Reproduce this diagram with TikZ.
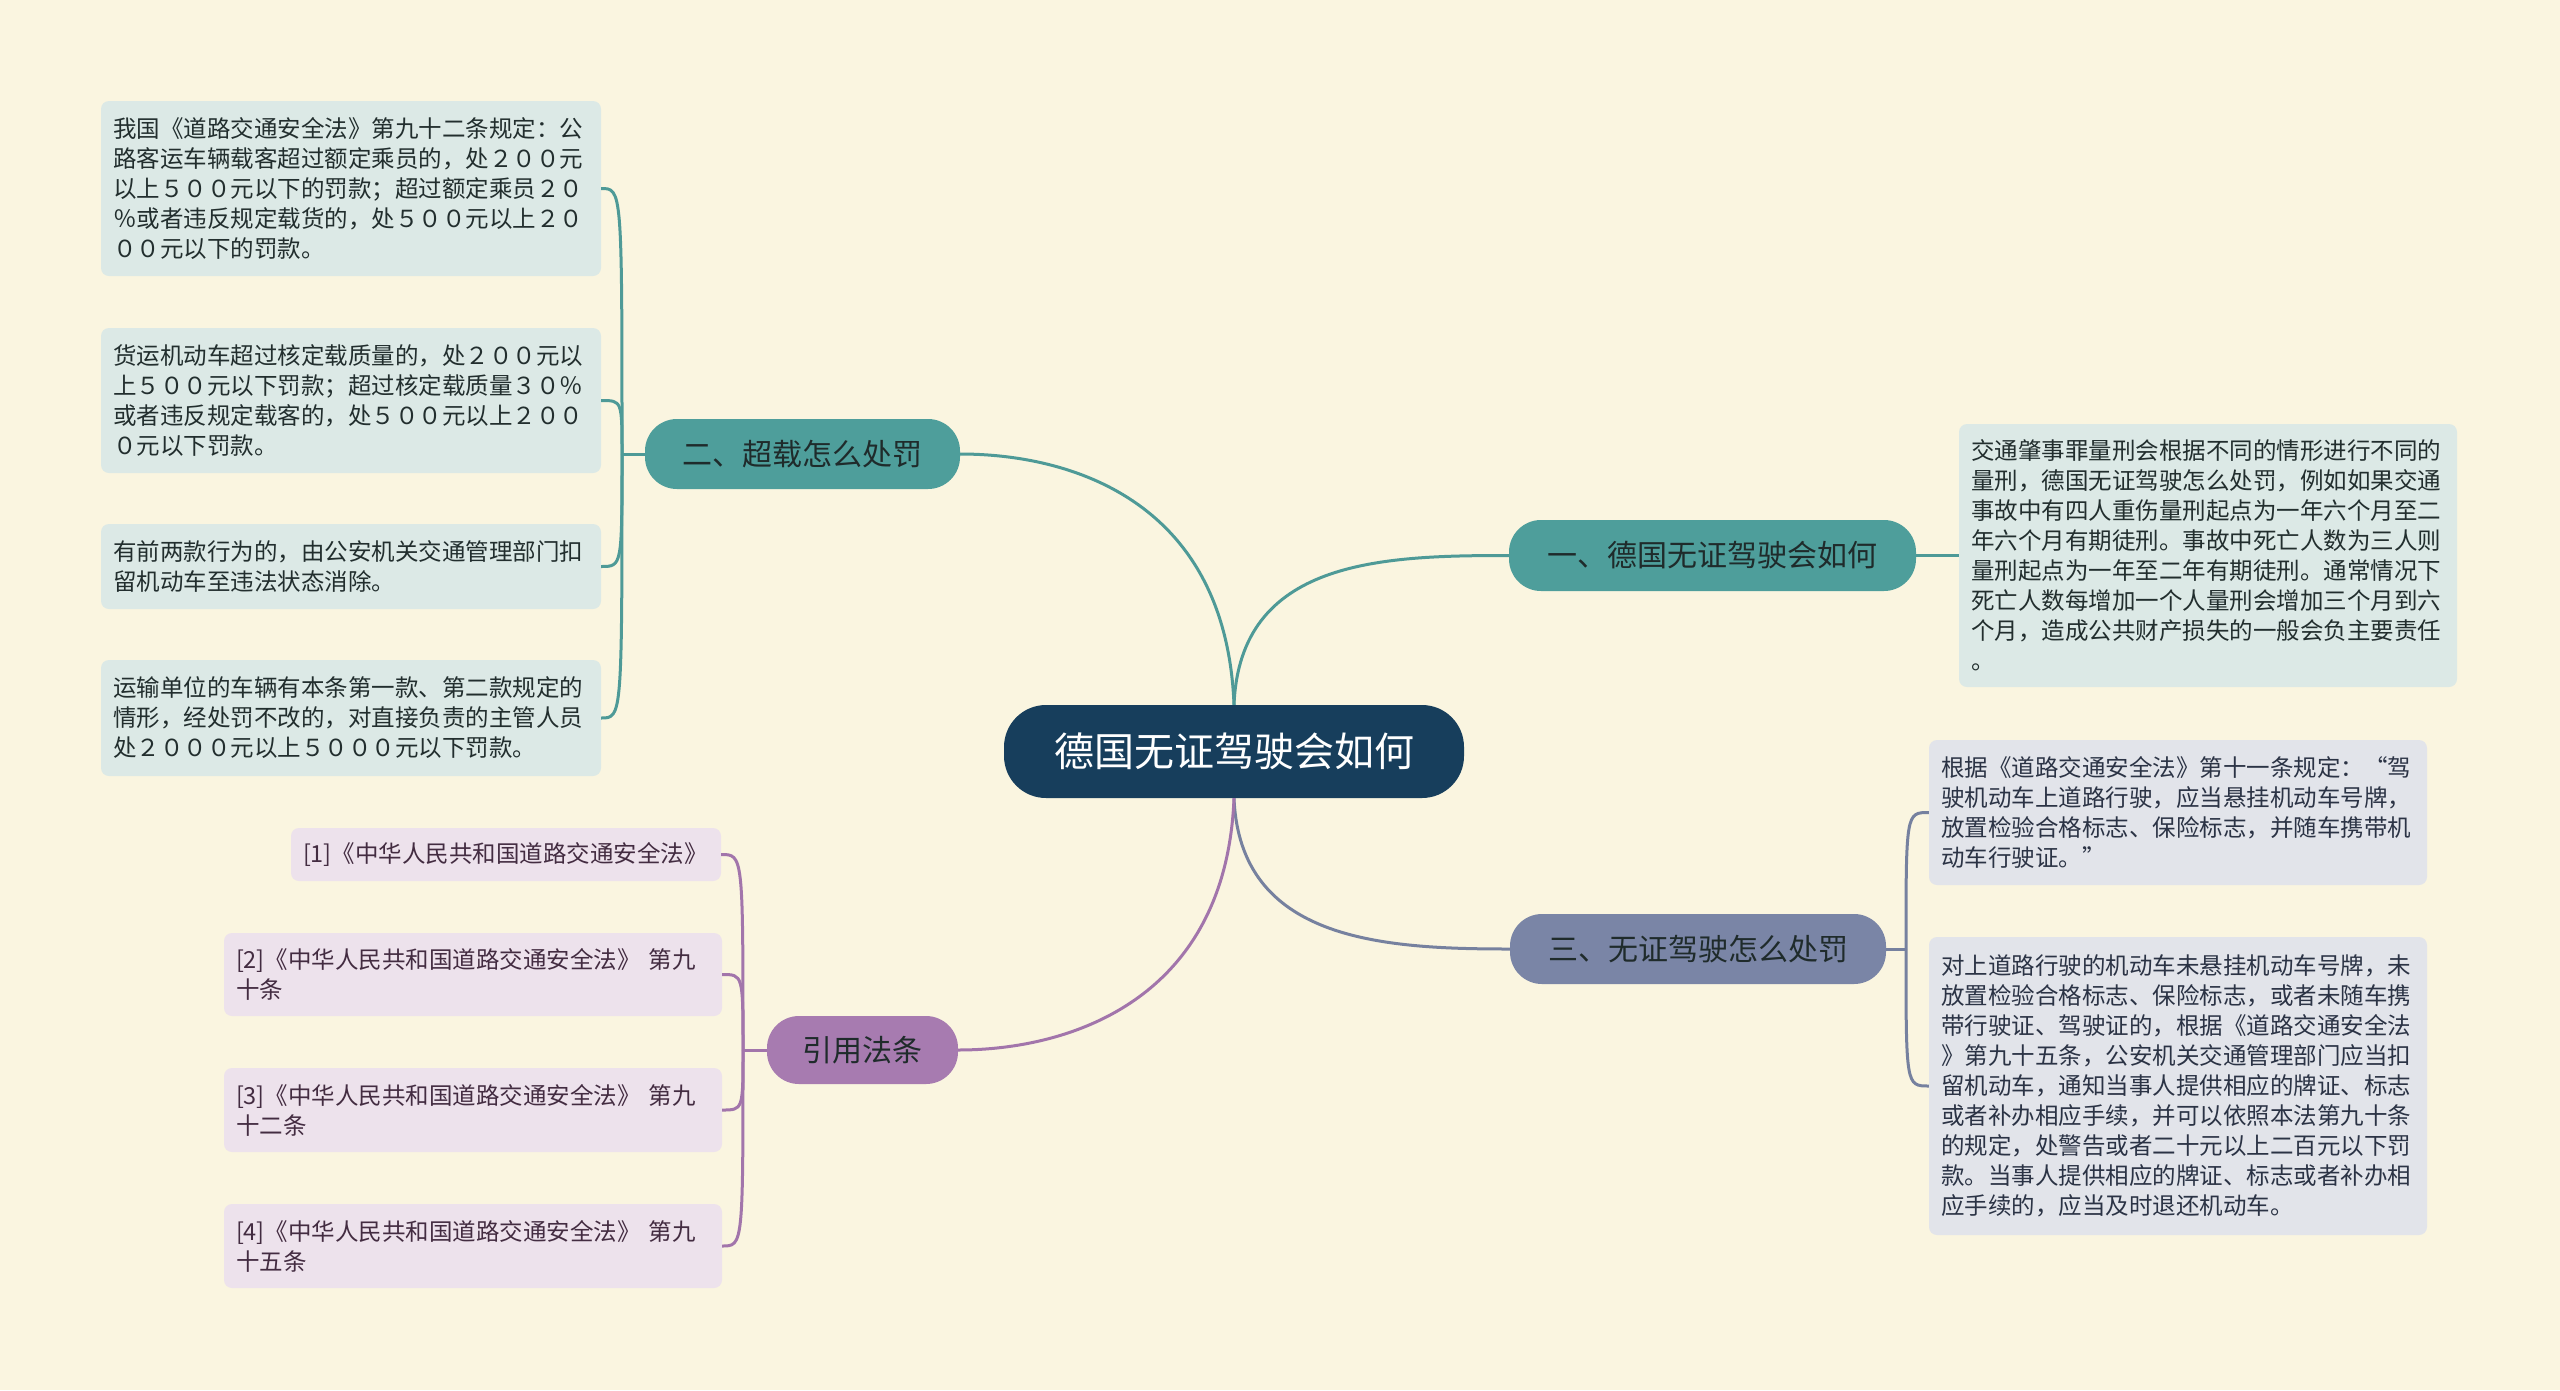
\documentclass[tikz,border=0pt]{standalone}
\usepackage{fontspec}
\setmainfont{Noto Sans CJK SC}
\definecolor{bg}{HTML}{FAF5E0}
\definecolor{navy}{HTML}{173E5C}
\definecolor{tealf}{HTML}{4E9E9B}
\definecolor{teall}{HTML}{4E9A97}
\definecolor{slatef}{HTML}{7A85A6}
\definecolor{slatel}{HTML}{76819F}
\definecolor{purpf}{HTML}{A77BB0}
\definecolor{purpl}{HTML}{A275AB}
\definecolor{lteal}{HTML}{DCE9E6}
\definecolor{lslate}{HTML}{E2E4EA}
\definecolor{lpurp}{HTML}{EDE2EC}
\definecolor{tteal}{HTML}{222E2E}
\definecolor{tslate}{HTML}{2B3345}
\definecolor{tpurp}{HTML}{432C41}
\definecolor{tbranch}{HTML}{1F2B2B}
\tikzset{
  leafbox/.style={rounded corners=8pt, inner xsep=12pt, inner ysep=0pt, align=left,
    font=\fontsize{23.5}{30}\selectfont, anchor=center},
  branchbox/.style={rounded corners=32pt, inner sep=0pt, align=center,
    font=\fontsize{30}{36}\selectfont, text=tbranch, anchor=center},
  conn/.style={line width=3pt},
}
\begin{document}
\begin{tikzpicture}[x=1pt,y=-1pt]
\fill[bg] (0,0) rectangle (2560,1390);
\useasboundingbox (0,0) rectangle (2560,1390);

% central
\node[rounded corners=42pt, fill=navy, text=white, minimum width=460pt, minimum height=93pt,
  inner sep=0pt, font=\fontsize{40}{48}\selectfont] (c) at (1234,751.5) {德国无证驾驶会如何};

% branches
\node[branchbox, fill=tealf, minimum width=407pt, minimum height=71pt] (b1) at (1712.5,555.5) {一、德国无证驾驶会如何};
\node[branchbox, fill=tealf, minimum width=315pt, minimum height=70pt] (b2) at (802.5,454) {二、超载怎么处罚};
\node[branchbox, fill=slatef, minimum width=376pt, minimum height=70pt] (b3) at (1698,949) {三、无证驾驶怎么处罚};
\node[branchbox, fill=purpf, minimum width=191pt, minimum height=68pt] (b4) at (862.5,1050) {引用法条};

% leaves of branch 1
\node[leafbox, fill=lteal, text=tteal, text width=474pt, minimum height=263pt] (l1) at (2208,555.5)
{交通肇事罪量刑会根据不同的情形进行不同的\\量刑，德国无证驾驶怎么处罚，例如如果交通\\事故中有四人重伤量刑起点为一年六个月至二\\年六个月有期徒刑。事故中死亡人数为三人则\\量刑起点为一年至二年有期徒刑。通常情况下\\死亡人数每增加一个人量刑会增加三个月到六\\个月，造成公共财产损失的一般会负主要责任\\。};

% leaves of branch 2
\node[leafbox, fill=lteal, text=tteal, text width=476pt, minimum height=175pt] (l2a) at (351,188.5)
{我国《道路交通安全法》第九十二条规定：公\\路客运车辆载客超过额定乘员的，处２００元\\以上５００元以下的罚款；超过额定乘员２０\\％或者违反规定载货的，处５００元以上２０\\００元以下的罚款。};
\node[leafbox, fill=lteal, text=tteal, text width=476pt, minimum height=145pt] (l2b) at (351,400.5)
{货运机动车超过核定载质量的，处２００元以\\上５００元以下罚款；超过核定载质量３０％\\或者违反规定载客的，处５００元以上２００\\０元以下罚款。};
\node[leafbox, fill=lteal, text=tteal, text width=476pt, minimum height=85pt] (l2c) at (351,566.5)
{有前两款行为的，由公安机关交通管理部门扣\\留机动车至违法状态消除。};
\node[leafbox, fill=lteal, text=tteal, text width=476pt, minimum height=116pt] (l2d) at (351,718)
{运输单位的车辆有本条第一款、第二款规定的\\情形，经处罚不改的，对直接负责的主管人员\\处２０００元以上５０００元以下罚款。};

% leaves of branch 3
\node[leafbox, fill=lslate, text=tslate, text width=474pt, minimum height=145pt] (l3a) at (2178,812.5)
{根据《道路交通安全法》第十一条规定：“驾\\驶机动车上道路行驶，应当悬挂机动车号牌，\\放置检验合格标志、保险标志，并随车携带机\\动车行驶证。”};
\node[leafbox, fill=lslate, text=tslate, text width=474pt, minimum height=298pt] (l3b) at (2178,1086)
{对上道路行驶的机动车未悬挂机动车号牌，未\\放置检验合格标志、保险标志，或者未随车携\\带行驶证、驾驶证的，根据《道路交通安全法\\》第九十五条，公安机关交通管理部门应当扣\\留机动车，通知当事人提供相应的牌证、标志\\或者补办相应手续，并可以依照本法第九十条\\的规定，处警告或者二十元以上二百元以下罚\\款。当事人提供相应的牌证、标志或者补办相\\应手续的，应当及时退还机动车。};

% leaves of branch 4
\node[leafbox, fill=lpurp, text=tpurp, text width=406pt, minimum height=53pt] (l4a) at (506,854.5)
{[1]《中华人民共和国道路交通安全法》};
\node[leafbox, fill=lpurp, text=tpurp, text width=474pt, minimum height=83pt] (l4b) at (473,974.5)
{[2]《中华人民共和国道路交通安全法》 第九\\十条};
\node[leafbox, fill=lpurp, text=tpurp, text width=474pt, minimum height=84pt] (l4c) at (473,1110)
{[3]《中华人民共和国道路交通安全法》 第九\\十二条};
\node[leafbox, fill=lpurp, text=tpurp, text width=474pt, minimum height=84pt] (l4d) at (473,1246)
{[4]《中华人民共和国道路交通安全法》 第九\\十五条};

% junctions
\coordinate (j2) at (622,454);
\coordinate (j3) at (1906,949);
\coordinate (j4) at (743,1050);

% main connectors
\draw[conn, teall] (c.north) .. controls (1240,560) and (1380,555.5) .. (b1.west);
\draw[conn, teall] (c.north) .. controls (1226,500) and (1070,454) .. (b2.east);
\draw[conn, slatel] (c.south) .. controls (1240,940) and (1380,949) .. (b3.west);
\draw[conn, purpl] (c.south) .. controls (1226,1000) and (1070,1050) .. (b4.east);

% branch 1 to leaf
\draw[conn, teall] (b1.east) -- (l1.west);

% branch 2 to leaves
\draw[conn, teall] (b2.west) -- (j2);
\foreach \n in {l2a,l2b,l2c,l2d}
  \draw[conn, teall] (j2) .. controls (j2 |- \n.east) .. (\n.east);

% branch 3 to leaves
\draw[conn, slatel] (b3.east) -- (j3);
\foreach \n in {l3a,l3b}
  \draw[conn, slatel] (j3) .. controls (j3 |- \n.west) .. (\n.west);

% branch 4 to leaves
\draw[conn, purpl] (b4.west) -- (j4);
\foreach \n in {l4a,l4b,l4c,l4d}
  \draw[conn, purpl] (j4) .. controls (j4 |- \n.east) .. (\n.east);
\end{tikzpicture}
\end{document}
